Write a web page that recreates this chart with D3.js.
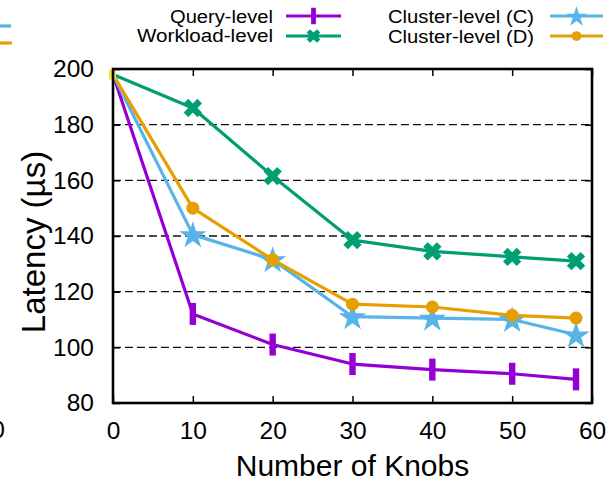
<!DOCTYPE html>
<html>
<head>
<meta charset="utf-8">
<script src="https://cdn.jsdelivr.net/npm/d3@7"></script>
<style>
  html, body { margin: 0; padding: 0; background: #fff; }
  svg { display: block; font-family: "Liberation Sans", Arial, Helvetica, sans-serif; }
</style>
</head>
<body>
<svg id="chart" width="607" height="482"></svg>
<script>
// Knob counts on the x axis (last run used 58 knobs)
const knobs = [0, 10, 20, 30, 40, 50, 58];

// Latency (µs) per tuning granularity
const queryLevel    = [198, 112, 101, 94, 92, 90.5, 88.5];
const workloadLevel = [198, 186, 161.5, 138.5, 134.5, 132.5, 131];
const clusterC      = [198, 140.5, 131.5, 111, 110.5, 110, 104.5];
const clusterD      = [198, 150, 131.5, 115.5, 114.5, 111.5, 110.5];

// Starting (default) configuration
const defaultPoint = [0, 198];

const xTicks = [0, 10, 20, 30, 40, 50, 60];
const yTicks = [80, 100, 120, 140, 160, 180, 200];

const seriesNames = ["Query-level", "Workload-level", "Cluster-level (C)", "Cluster-level (D)"];
const seriesValues = [queryLevel, workloadLevel, clusterC, clusterD];
const seriesColors = ["#9400d3", "#009e73", "#56b4e9", "#e69f00"];
const seriesMarkers = ["bar", "x", "star", "circle"];

const svg = d3.select("#chart");
const plot = { left: 113, right: 592, top: 69, bottom: 403 };

const x = d3.scaleLinear().domain([0, 60]).range([plot.left, plot.right]);
const y = d3.scaleLinear().domain([80, 200]).range([plot.bottom, plot.top]);

// Horizontal grid (dashed), skipping the frame edges
svg.append("g")
  .selectAll("line")
  .data(yTicks.filter(v => v > 80 && v < 200))
  .join("line")
  .attr("x1", plot.left).attr("x2", plot.right)
  .attr("y1", d => y(d)).attr("y2", d => y(d))
  .attr("stroke", "#111").attr("stroke-width", 1.3)
  .attr("stroke-dasharray", "8,4");

// Axes with inward ticks on all four sides
const tickLen = 7;
const axisBottom = d3.axisBottom(x).tickValues(xTicks).tickSize(-tickLen).tickPadding(tickLen + 12);
const axisTop = d3.axisTop(x).tickValues(xTicks).tickSize(-tickLen).tickFormat("");
const axisLeft = d3.axisLeft(y).tickValues(yTicks).tickSize(-tickLen).tickPadding(tickLen + 12);
const axisRight = d3.axisRight(y).tickValues(yTicks).tickSize(-tickLen).tickFormat("");

function styleAxis(g) {
  g.select(".domain").remove();
  g.selectAll(".tick line").attr("stroke", "#000").attr("stroke-width", 1.5);
  g.selectAll(".tick text").attr("fill", "#000").attr("font-size", 24.5)
    .attr("font-family", "'Liberation Sans', Arial, sans-serif");
}

svg.append("g").attr("transform", `translate(0,${plot.bottom})`).call(axisBottom).call(styleAxis)
  .selectAll(".tick text").attr("dy", "0.71em");
svg.append("g").attr("transform", `translate(0,${plot.top})`).call(axisTop).call(styleAxis);
svg.append("g").attr("transform", `translate(${plot.left},0)`).call(axisLeft).call(styleAxis);
svg.append("g").attr("transform", `translate(${plot.right},0)`).call(axisRight).call(styleAxis);

// Marker drawing helper
function drawMarker(g, kind, color, cx, cy, scale) {
  const s = scale || 1;
  if (kind === "bar") {
    g.append("rect").attr("x", cx - 3.2 * s).attr("y", cy - 11 * s)
      .attr("width", 6.4 * s).attr("height", 22 * s).attr("fill", color);
  } else if (kind === "x") {
    g.append("path").attr("d", d3.symbol(d3.symbolCross, 210 * s * s)())
      .attr("transform", `translate(${cx},${cy}) rotate(45)`).attr("fill", color);
  } else if (kind === "star") {
    g.append("path").attr("d", d3.symbol(d3.symbolStar, 230 * s * s)())
      .attr("transform", `translate(${cx},${cy + 1})`).attr("fill", color);
  } else if (kind === "circle") {
    g.append("circle").attr("cx", cx).attr("cy", cy).attr("r", 6.5 * s).attr("fill", color);
  }
}

// Series lines and markers
const line = d3.line().x((d, i) => x(knobs[i])).y(d => y(d));
seriesValues.forEach((vals, k) => {
  const g = svg.append("g");
  g.append("path").datum(vals).attr("d", line)
    .attr("fill", "none").attr("stroke", seriesColors[k])
    .attr("stroke-width", 3.2).attr("stroke-linejoin", "round");
  vals.forEach((v, i) => {
    if (i === 0) return;
    drawMarker(g, seriesMarkers[k], seriesColors[k], x(knobs[i]), y(v), 1);
  });
});

// Default configuration point
svg.append("rect")
  .attr("x", x(defaultPoint[0]) - 4).attr("y", y(defaultPoint[1]) - 5)
  .attr("width", 7).attr("height", 10).attr("fill", "#f0e442");

// Frame
svg.append("rect")
  .attr("x", plot.left).attr("y", plot.top)
  .attr("width", plot.right - plot.left).attr("height", plot.bottom - plot.top)
  .attr("fill", "none").attr("stroke", "#000").attr("stroke-width", 2.6);

// Axis titles
svg.append("text")
  .attr("x", (plot.left + plot.right) / 2).attr("y", 476)
  .attr("text-anchor", "middle").attr("font-size", 30).attr("fill", "#000")
  .text("Number of Knobs");
svg.append("text")
  .attr("transform", `translate(45,242) rotate(-90)`)
  .attr("text-anchor", "middle").attr("font-size", 33).attr("fill", "#000")
  .text("Latency (µs)");

// Legend: two columns of two entries
const legendItems = [
  { name: seriesNames[0], k: 0, tx: 273, ty: 23, w: 103, lx1: 286, lx2: 341, ly: 16 },
  { name: seriesNames[1], k: 1, tx: 273, ty: 42, w: 136, lx1: 286, lx2: 341, ly: 36 },
  { name: seriesNames[2], k: 2, tx: 534, ty: 23, w: 146, lx1: 550, lx2: 603, ly: 16 },
  { name: seriesNames[3], k: 3, tx: 534, ty: 43, w: 146, lx1: 550, lx2: 603, ly: 36 }
];
const legend = svg.append("g");
legendItems.forEach(it => {
  legend.append("text").attr("x", it.tx).attr("y", it.ty)
    .attr("text-anchor", "end").attr("font-size", 18).attr("fill", "#000")
    .attr("textLength", it.w).attr("lengthAdjust", "spacingAndGlyphs")
    .text(it.name);
  legend.append("line").attr("x1", it.lx1).attr("x2", it.lx2)
    .attr("y1", it.ly).attr("y2", it.ly)
    .attr("stroke", seriesColors[it.k]).attr("stroke-width", 3.2);
  drawMarker(legend, seriesMarkers[it.k], seriesColors[it.k], (it.lx1 + it.lx2) / 2, it.ly, 0.75);
});

// Neighbouring panel fragments at the left edge
svg.append("line").attr("x1", 0).attr("x2", 11).attr("y1", 26).attr("y2", 26)
  .attr("stroke", seriesColors[2]).attr("stroke-width", 3.2);
svg.append("line").attr("x1", 0).attr("x2", 12).attr("y1", 43).attr("y2", 43)
  .attr("stroke", seriesColors[3]).attr("stroke-width", 3.2);
svg.append("text").attr("x", 5).attr("y", 438)
  .attr("text-anchor", "end").attr("font-size", 24.5).attr("fill", "#000")
  .text("60");
</script>
</body>
</html>
